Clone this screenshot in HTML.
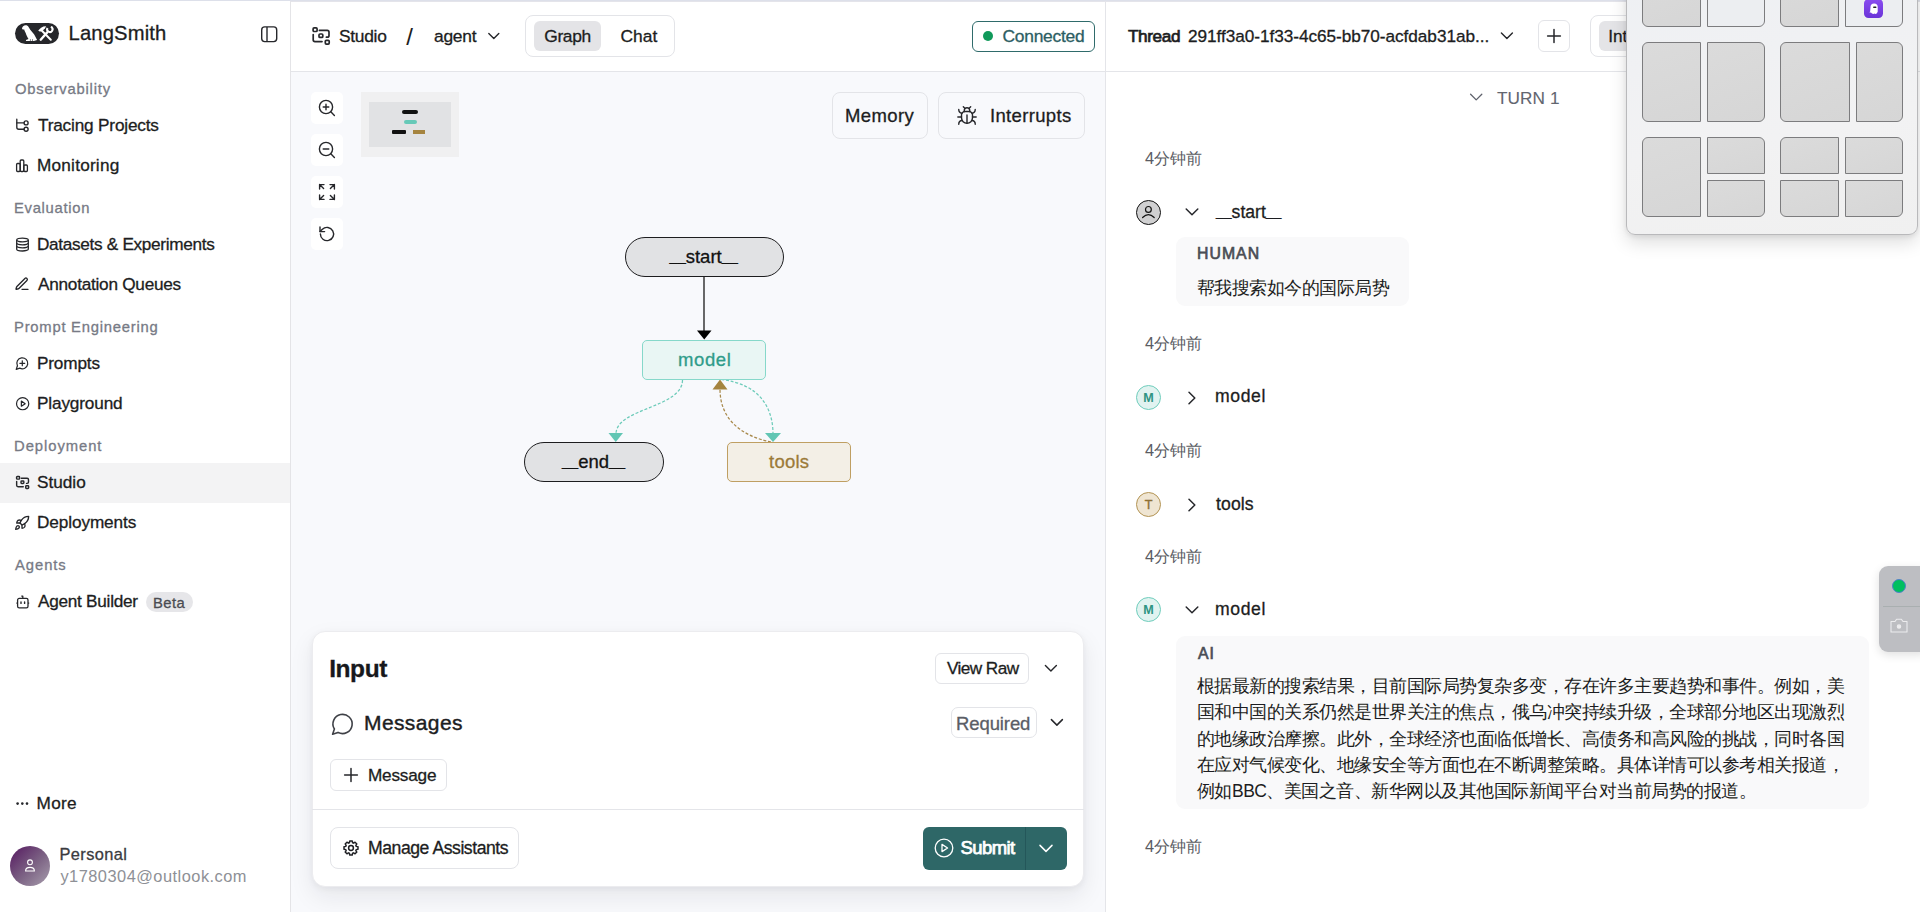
<!DOCTYPE html>
<html><head><meta charset="utf-8">
<style>
*{box-sizing:border-box;margin:0;padding:0}
html,body{width:1920px;height:912px;overflow:hidden;background:#fff;font-family:"Liberation Sans",sans-serif;color:#1c1d21}
.a{position:absolute}
.t{position:absolute;white-space:nowrap;line-height:1;-webkit-text-stroke:0.3px currentColor}
svg{position:absolute;overflow:visible}
.cj{font-size:16.4px;color:#5a5c63;-webkit-text-stroke:0}
.cj2{font-size:17.5px;color:#1c1d21;letter-spacing:-0.51px;-webkit-text-stroke:0}
.bx{position:absolute;border:1px solid #e3e4e8;border-radius:8px}
</style></head><body>
<!-- panels -->
<div class="a" style="left:0;top:0;width:1920px;height:1px;background:#dde0ea"></div>
<div class="a" style="left:291px;top:1px;width:1629px;height:1px;background:#e4e4ea"></div>
<div class="a" style="left:290px;top:1px;width:1px;height:911px;background:#e4e4e7"></div>
<div class="a" style="left:291px;top:72px;width:814px;height:840px;background:#f8f9fc"></div>
<div class="a" style="left:291px;top:71px;width:1629px;height:1px;background:#e4e5e9"></div>
<div class="a" style="left:1105px;top:2px;width:1px;height:910px;background:#e4e5e9"></div>

<!-- sidebar -->
<div class="a" style="left:0;top:463px;width:290px;height:40px;background:#f3f3f4"></div>
<div class="a" style="left:146px;top:592px;width:47px;height:20px;border-radius:10px;background:#e6e6e9"></div>
<div class="a" style="left:15.3px;top:22.5px;width:43.6px;height:21.8px;border-radius:10.9px;background:#26272b"></div>
<svg style="left:15px;top:22px" width="44" height="23" viewBox="0 0 44 23">
 <path fill="#fff" d="M6.98 6.55C7.3 5 8.6 3.3 10.7 3.27c1.3 0 2.2.7 2.55 1.3l2 3.13 3.15 3.7c1.1 1.3 2 2.9 3.68 6.55l-3.13 1.15H10.97v-1.15l2.56-1.05c-1-1.4-2.1-3.4-2.85-5.8L9.54 8.83 9.26 7.55 7.69 7.4z"/>
 <path stroke="#26272b" stroke-width=".8" d="M15.4 17.4v1.3M17.5 17.4v1.3"/>
 <path fill="none" stroke="#fff" stroke-width="2" stroke-linecap="round" d="M27.2 9l8.6 8.8"/>
 <path fill="#fff" d="M23.2 8.55l2.9-2.85 2.3-1.3 2.8-.27-1.13 2.14-2 2-1.47 1.13h-1.95z"/>
 <path fill="none" stroke="#fff" stroke-width="2.4" stroke-linecap="round" d="M25.7 17.7l6.5-7.3"/>
 <path fill="none" stroke="#fff" stroke-width="2" d="M36.2 5a2.7 2.7 0 1 1-3.7 1"/>
 <path fill="#fff" d="M36.6 3.9l1.3 1.2-1.2 1.3-1.3-1.2z"/>
</svg>
<svg style="left:15px;top:118px" width="15" height="15" viewBox="0 0 15 15" fill="none" stroke="#26272b" stroke-width="1.35" stroke-linecap="round"><path d="M1.8 1.2v8a2 2 0 0 0 2 2H9"/><path d="M1.8 4.9H9"/><circle cx="11.1" cy="4.9" r="2"/><circle cx="11.1" cy="11.2" r="2"/></svg>
<svg style="left:15px;top:158px" width="15" height="15" viewBox="0 0 15 15" fill="none" stroke="#26272b" stroke-width="1.3"><rect x="1.6" y="5.5" width="3.6" height="8" rx="1"/><rect x="5.2" y="2" width="3.6" height="11.5" rx="1"/><rect x="8.8" y="7" width="3.6" height="6.5" rx="1"/></svg>
<svg style="left:15px;top:237px" width="15" height="15" viewBox="0 0 15 15" fill="none" stroke="#26272b" stroke-width="1.3"><ellipse cx="7.5" cy="3" rx="5.8" ry="1.8"/><path d="M1.7 3v9.2c0 1 2.6 1.8 5.8 1.8s5.8-.8 5.8-1.8V3"/><path d="M1.7 6.1c0 1 2.6 1.8 5.8 1.8s5.8-.8 5.8-1.8M1.7 9.1c0 1 2.6 1.8 5.8 1.8s5.8-.8 5.8-1.8"/></svg>
<svg style="left:14.3px;top:276.3px" width="16" height="16" viewBox="0 0 24 24" fill="none" stroke="#26272b" stroke-width="2" stroke-linecap="round" stroke-linejoin="round"><path d="M12 20h9"/><path d="M16.376 3.622a1 1 0 0 1 3.002 3.002L7.368 18.635a2 2 0 0 1-.855.506l-2.872.838a.5.5 0 0 1-.62-.62l.838-2.872a2 2 0 0 1 .506-.854z"/></svg>
<svg style="left:15.2px;top:356.2px" width="14.6" height="14.6" viewBox="0 0 24 24" fill="none" stroke="#26272b" stroke-width="2" stroke-linecap="round" stroke-linejoin="round"><path d="M7.9 20A9 9 0 1 0 4 16.1L2 22Z"/><path d="M8 12h8"/><path d="M12 8v8"/></svg>
<svg style="left:14.9px;top:396.2px" width="15.3" height="15.3" viewBox="0 0 24 24" fill="none" stroke="#26272b" stroke-width="1.9" stroke-linecap="round" stroke-linejoin="round"><circle cx="12" cy="12" r="9.6"/><polygon points="10 8 16 12 10 16 10 8"/></svg>
<svg style="left:15px;top:475px" width="15" height="15" viewBox="0 0 20 20" fill="none" stroke="#26272b" stroke-width="1.9" stroke-linejoin="round" stroke-linecap="round"><rect x="2.1" y="1.9" width="4" height="3.6" rx="1"/><rect x="8" y="8" width="3.8" height="3.4" rx="1"/><rect x="14.3" y="14.3" width="3.9" height="3.8" rx="1"/><path d="M2.2 8.6v5.2a1.8 1.8 0 0 0 1.8 1.8H11M8.4 4.4h7.8a1.8 1.8 0 0 1 1.8 1.8v3.2a1.8 1.8 0 0 1-1.8 1.8h-.8"/></svg>
<svg style="left:14.3px;top:514.5px" width="16" height="16" viewBox="0 0 24 24" fill="none" stroke="#26272b" stroke-width="2" stroke-linecap="round" stroke-linejoin="round"><path d="M4.5 16.5c-1.5 1.26-2 5-2 5s3.74-.5 5-2c.71-.84.7-2.13-.09-2.91a2.18 2.18 0 0 0-2.91-.09z"/><path d="m12 15-3-3a22 22 0 0 1 2-3.95A12.88 12.88 0 0 1 22 2c0 2.72-.78 7.5-6 11a22.35 22.35 0 0 1-4 2z"/><path d="M9 12H4s.55-3.03 2-4c1.62-1.08 5 0 5 0"/><path d="M12 15v5s3.03-.55 4-2c1.08-1.62 0-5 0-5"/></svg>
<svg style="left:15px;top:594px" width="15" height="15" viewBox="0 0 15 15" fill="none" stroke="#26272b" stroke-width="1.3" stroke-linejoin="round"><rect x="2.6" y="4.4" width="10.4" height="9.4" rx="1.6"/><path d="M7.8 4.4V2.2H6.3"/><path d="M2.6 9.1H1.4M13 9.1h1.2"/><path d="M6 8v1.4M9.6 8v1.4" stroke-width="1.4" stroke-linecap="round"/></svg>
<svg style="left:14px;top:796px" width="16" height="14" viewBox="0 0 16 14"><circle cx="3.6" cy="7.6" r="1.3" fill="#26272b"/><circle cx="8.3" cy="7.6" r="1.3" fill="#26272b"/><circle cx="13" cy="7.6" r="1.3" fill="#26272b"/></svg>
<div class="a" style="left:10px;top:846px;width:40px;height:40px;border-radius:20px;background:linear-gradient(135deg,#54175f 0%,#7d6485 55%,#a99fae 100%)"></div>
<svg style="left:23px;top:858px" width="14" height="15" viewBox="0 0 14 15" fill="none" stroke="#fff" stroke-width="1.1"><circle cx="7" cy="4.3" r="2.4"/><path d="M2.6 13c0-2.4 2-3.6 4.4-3.6s4.4 1.2 4.4 3.6z"/></svg>
<svg style="left:259px;top:25px" width="19" height="19" viewBox="0 0 19 19" fill="none" stroke="#26272b" stroke-width="1.4"><rect x="2.7" y="1.9" width="15" height="14.7" rx="3"/><path d="M8 1.9v14.7"/></svg>

<!-- middle header -->
<svg style="left:311px;top:26px" width="20" height="20" viewBox="0 0 20 20" fill="none" stroke="#26272b" stroke-width="1.7" stroke-linejoin="round" stroke-linecap="round"><rect x="2.1" y="1.9" width="4" height="3.6" rx="1"/><rect x="8" y="8" width="3.8" height="3.4" rx="1"/><rect x="14.3" y="14.3" width="3.9" height="3.8" rx="1"/><path d="M2.2 8.6v5.2a1.8 1.8 0 0 0 1.8 1.8H11M8.4 4.4h7.8a1.8 1.8 0 0 1 1.8 1.8v3.2a1.8 1.8 0 0 1-1.8 1.8h-.8"/></svg>
<div class="t" style="left:406.3px;top:25.4px;font-size:24px;color:#1c1d21;-webkit-text-stroke:0">/</div>
<svg style="left:487px;top:31px" width="14" height="10" viewBox="0 0 14 10" fill="none" stroke="#26272b" stroke-width="1.4" stroke-linecap="round" stroke-linejoin="round"><path d="M1.8 2.4l5 5 5-5"/></svg>
<div class="bx" style="left:525px;top:15px;width:150px;height:42px;border-radius:8px"></div>
<div class="a" style="left:534px;top:21px;width:67px;height:30px;border-radius:6px;background:#e4e4e7"></div>
<div class="a" style="left:972px;top:21px;width:123px;height:31px;border:1.4px solid #2f6b6b;border-radius:6px"></div>
<div class="a" style="left:983px;top:31px;width:10px;height:10px;border-radius:5px;background:#10995a"></div>

<!-- graph controls -->
<div class="a" style="left:311px;top:92px;width:32px;height:32px;border-radius:5px;background:#fff"></div>
<div class="a" style="left:311px;top:134px;width:32px;height:32px;border-radius:5px;background:#fff"></div>
<div class="a" style="left:311px;top:176px;width:32px;height:32px;border-radius:5px;background:#fff"></div>
<div class="a" style="left:311px;top:218px;width:32px;height:32px;border-radius:5px;background:#fff"></div>
<svg style="left:317px;top:98px" width="20" height="20" viewBox="0 0 20 20" fill="none" stroke="#26272b" stroke-width="1.4" stroke-linecap="round"><circle cx="9" cy="9" r="6.6"/><path d="M13.8 13.8l3.6 3.6M9 6.2v5.6M6.2 9h5.6"/></svg>
<svg style="left:317px;top:140px" width="20" height="20" viewBox="0 0 20 20" fill="none" stroke="#26272b" stroke-width="1.4" stroke-linecap="round"><circle cx="9" cy="9" r="6.6"/><path d="M13.8 13.8l3.6 3.6M6.2 9h5.6"/></svg>
<svg style="left:317px;top:182px" width="20" height="20" viewBox="0 0 20 20" fill="none" stroke="#26272b" stroke-width="1.4" stroke-linecap="round" stroke-linejoin="round"><path d="M2.6 7V2.6H7M2.6 2.6l4 4M17.4 7V2.6H13M17.4 2.6l-4 4M2.6 13v4.4H7M2.6 17.4l4-4M17.4 13v4.4H13M17.4 17.4l-4-4"/></svg>
<svg style="left:317px;top:224px" width="20" height="20" viewBox="0 0 20 20" fill="none" stroke="#26272b" stroke-width="1.4" stroke-linecap="round" stroke-linejoin="round"><path d="M3.4 10a6.6 6.6 0 1 0 2-4.7L3 7.6"/><path d="M3 3v4.6h4.6"/></svg>
<div class="a" style="left:361px;top:92px;width:98px;height:65px;background:#f0f0f1"></div>
<div class="a" style="left:369px;top:102px;width:82px;height:45px;background:#e1e2e4"></div>
<div class="a" style="left:402px;top:110px;width:16px;height:4px;border-radius:2px;background:#111"></div>
<div class="a" style="left:404px;top:120px;width:13px;height:4px;border-radius:2px;background:#66c9b8"></div>
<div class="a" style="left:392px;top:130px;width:14px;height:4px;border-radius:1px;background:#111"></div>
<div class="a" style="left:413px;top:130px;width:12px;height:4px;background:#a5843f"></div>
<div class="bx" style="left:832px;top:92px;width:96px;height:47px;border-radius:8px"></div>
<div class="bx" style="left:938px;top:92px;width:147px;height:47px;border-radius:8px"></div>
<svg style="left:956px;top:105px" width="22" height="22" viewBox="0 0 24 24" fill="none" stroke="#26272b" stroke-width="1.55" stroke-linecap="round" stroke-linejoin="round"><path d="m8 2 1.88 1.88"/><path d="M14.12 3.88 16 2"/><path d="M9 7.13v-1a3.003 3.003 0 1 1 6 0v1"/><path d="M12 20c-3.3 0-6-2.7-6-6v-3a4 4 0 0 1 4-4h4a4 4 0 0 1 4 4v3c0 3.3-2.7 6-6 6"/><path d="M12 20v-9"/><path d="M6.53 9C4.6 8.8 3 7.1 3 5"/><path d="M6 13H2"/><path d="M3 21c0-2.1 1.7-3.9 3.8-4"/><path d="M20.97 5c0 2.1-1.6 3.8-3.5 4"/><path d="M22 13h-4"/><path d="M17.2 17c2.1.1 3.8 1.9 3.8 4"/></svg>

<!-- graph edges and nodes -->
<svg style="left:0;top:0" width="1920" height="912" viewBox="0 0 1920 912">
 <path d="M704 277V331" stroke="#1a1a1a" stroke-width="1.3" fill="none"/>
 <path d="M697 330.5h14.5l-7.25 9z" fill="#000"/>
 <path d="M682.5 380C682.5 408 616 408 616 434" stroke="#6ccbb9" stroke-width="1.25" stroke-dasharray="3 1.8" fill="none"/>
 <path d="M608.5 433h14.5l-7.25 9z" fill="#62c6b4"/>
 <path d="M721 379.5C760 384 773 408 773 434" stroke="#6ccbb9" stroke-width="1.25" stroke-dasharray="3 1.8" fill="none"/>
 <path d="M765 433h16l-8 9z" fill="#62c6b4"/>
 <path d="M771 442C742 436 720 420 720 389" stroke="#a8894b" stroke-width="1.25" stroke-dasharray="3 1.8" fill="none"/>
 <path d="M712.5 389.5h15l-7.5-10z" fill="#a5843f"/>
</svg>
<div class="a" style="left:625px;top:237px;width:159px;height:40px;border-radius:20px;background:#e1e2e4;border:1.2px solid #1d1d1f"></div>
<div class="a" style="left:642px;top:340px;width:124px;height:40px;border-radius:5px;background:#e9f6f4;border:1.2px solid #86d8ca"></div>
<div class="a" style="left:524px;top:442px;width:140px;height:40px;border-radius:20px;background:#e1e2e4;border:1.2px solid #1d1d1f"></div>
<div class="a" style="left:727px;top:442px;width:124px;height:40px;border-radius:5px;background:#f3efe6;border:1.2px solid #bf9f62"></div>

<!-- input card -->
<div class="a" style="left:312px;top:631px;width:772px;height:256px;border-radius:13px;background:#fff;border:1px solid #ececef;box-shadow:0 10px 24px rgba(20,24,40,.08),0 2px 6px rgba(20,24,40,.05)"></div>
<div class="a" style="left:312px;top:809px;width:772px;height:1px;background:#e4e5e9"></div>
<svg style="left:331px;top:712px" width="24" height="24" viewBox="0 0 24 24" fill="none" stroke="#3f4147" stroke-width="1.6" stroke-linejoin="round"><path d="M1.6 22.2l1.8-5.2A9.6 9.6 0 1 1 7 20.4z"/></svg>
<div class="bx" style="left:935px;top:653px;width:94px;height:31px;border-radius:6px"></div>
<svg style="left:1044px;top:662px" width="14" height="12" viewBox="0 0 14 12" fill="none" stroke="#26272b" stroke-width="1.4" stroke-linecap="round" stroke-linejoin="round"><path d="M1.4 3.6l5.5 5.5 5.5-5.5"/></svg>
<div class="bx" style="left:951px;top:707px;width:86px;height:31px;border-radius:7px"></div>
<svg style="left:1050px;top:716px" width="14" height="12" viewBox="0 0 14 12" fill="none" stroke="#26272b" stroke-width="1.5" stroke-linecap="round" stroke-linejoin="round"><path d="M1.4 3.6l5.5 5.5 5.5-5.5"/></svg>
<div class="bx" style="left:330px;top:759px;width:117px;height:32px;border-radius:6px"></div>
<svg style="left:343px;top:767px" width="16" height="16" viewBox="0 0 16 16" fill="none" stroke="#26272b" stroke-width="1.5" stroke-linecap="round"><path d="M8 1.6v12.8M1.6 8h12.8"/></svg>
<div class="bx" style="left:330px;top:827px;width:189px;height:42px;border-radius:8px"></div>
<svg style="left:339px;top:836px" width="24" height="24" viewBox="0 0 24 24" fill="none" stroke="#1f2024" stroke-width="1.5" stroke-linejoin="round"><path d="M17.26 13.61 L18.99 13.23 L18.99 10.77 L17.26 10.39 L16.86 9.42 L17.82 7.93 L16.07 6.18 L14.58 7.14 L13.61 6.74 L13.23 5.01 L10.77 5.01 L10.39 6.74 L9.42 7.14 L7.93 6.18 L6.18 7.93 L7.14 9.42 L6.74 10.39 L5.01 10.77 L5.01 13.23 L6.74 13.61 L7.14 14.58 L6.18 16.07 L7.93 17.82 L9.42 16.86 L10.39 17.26 L10.77 18.99 L13.23 18.99 L13.61 17.26 L14.58 16.86 L16.07 17.82 L17.82 16.07 L16.86 14.58Z"/><circle cx="12" cy="12" r="2.4"/></svg>
<div class="a" style="left:923px;top:827px;width:144px;height:43px;border-radius:6px;background:#2e6767"></div>
<div class="a" style="left:1025px;top:827px;width:1px;height:43px;background:#24575a"></div>
<svg style="left:933px;top:837px" width="22" height="22" viewBox="0 0 22 22" fill="none" stroke="#fff" stroke-width="1.3" stroke-linejoin="round"><circle cx="11" cy="11" r="8.8"/><path d="M9 7.4v7.2l5.6-3.6z"/></svg>
<svg style="left:1038px;top:842px" width="16" height="12" viewBox="0 0 16 12" fill="none" stroke="#fff" stroke-width="1.5" stroke-linecap="round" stroke-linejoin="round"><path d="M2 3.4l6 6 6-6"/></svg>

<!-- right header -->
<svg style="left:1500px;top:30px" width="14" height="12" viewBox="0 0 14 12" fill="none" stroke="#26272b" stroke-width="1.4" stroke-linecap="round" stroke-linejoin="round"><path d="M1.4 3l5.5 5.5 5.5-5.5"/></svg>
<div class="bx" style="left:1538px;top:20px;width:32px;height:32px;border-radius:6px"></div>
<svg style="left:1546px;top:28px" width="16" height="16" viewBox="0 0 16 16" fill="none" stroke="#26272b" stroke-width="1.5" stroke-linecap="round"><path d="M8 1.6v12.8M1.6 8h12.8"/></svg>
<div class="bx" style="left:1590px;top:15px;width:150px;height:42px;border-radius:8px"></div>
<div class="a" style="left:1599px;top:21px;width:60px;height:30px;border-radius:6px;background:#e4e4e7"></div>

<!-- chat -->
<svg style="left:1468px;top:90px" width="16" height="14" viewBox="0 0 16 14" fill="none" stroke="#5f626c" stroke-width="1.3" stroke-linecap="round" stroke-linejoin="round"><path d="M2.6 4.3l5.6 5.6 5.6-5.6"/></svg>
<div class="a" style="left:1136px;top:200px;width:25px;height:25px;border-radius:13px;background:#d0d0d1;border:1.3px solid #111"></div>
<svg style="left:1140px;top:204px" width="17" height="17" viewBox="0 0 17 17" fill="none" stroke="#111" stroke-width="1.2" stroke-linecap="round"><circle cx="8.4" cy="5.4" r="2.9"/><path d="M2.6 13.5Q8.4 7.9 14.2 13.5"/></svg>
<svg style="left:1184px;top:206px" width="16" height="12" viewBox="0 0 16 12" fill="none" stroke="#26272b" stroke-width="1.5" stroke-linecap="round" stroke-linejoin="round"><path d="M2.2 3l5.8 5.8 5.8-5.8"/></svg>
<div class="a" style="left:1176px;top:237px;width:233px;height:69px;border-radius:9px;background:#f9f9fa"></div>
<div class="a" style="left:1136px;top:385px;width:25px;height:25px;border-radius:13px;background:#e1f3f0;border:1.3px solid #6fcdbc"></div>
<svg style="left:1186px;top:390px" width="12" height="16" viewBox="0 0 12 16" fill="none" stroke="#26272b" stroke-width="1.5" stroke-linecap="round" stroke-linejoin="round"><path d="M3 2.2l5.8 5.8-5.8 5.8"/></svg>
<div class="a" style="left:1136px;top:492px;width:25px;height:25px;border-radius:13px;background:#efe5d2;border:1.3px solid #b39454"></div>
<svg style="left:1186px;top:497px" width="12" height="16" viewBox="0 0 12 16" fill="none" stroke="#26272b" stroke-width="1.5" stroke-linecap="round" stroke-linejoin="round"><path d="M3 2.2l5.8 5.8-5.8 5.8"/></svg>
<div class="a" style="left:1136px;top:597px;width:25px;height:25px;border-radius:13px;background:#e1f3f0;border:1.3px solid #6fcdbc"></div>
<svg style="left:1184px;top:604px" width="16" height="12" viewBox="0 0 16 12" fill="none" stroke="#26272b" stroke-width="1.5" stroke-linecap="round" stroke-linejoin="round"><path d="M2.2 3l5.8 5.8 5.8-5.8"/></svg>
<div class="a" style="left:1176px;top:636px;width:693px;height:173px;border-radius:9px;background:#f9f9fa"></div>
<div class="a" style="left:1136px;top:385px;width:25px;height:25px;display:flex;align-items:center;justify-content:center;font-size:12.6px;font-weight:700;color:#2f9482;line-height:1;padding-top:1px">M</div>
<div class="a" style="left:1136px;top:492px;width:25px;height:25px;display:flex;align-items:center;justify-content:center;font-size:12.6px;font-weight:400;-webkit-text-stroke:.4px #8d6f33;color:#8d6f33;line-height:1;padding-top:1px">T</div>
<div class="a" style="left:1136px;top:597px;width:25px;height:25px;display:flex;align-items:center;justify-content:center;font-size:12.6px;font-weight:700;color:#2f9482;line-height:1;padding-top:1px">M</div>
<div class="t" style="left:68.6px;top:23.20px;font-size:20.2px;color:#1c1d21;letter-spacing:0.150px;">LangSmith</div>
<div class="t" style="left:15.0px;top:81.90px;font-size:14.8px;color:#777a85;letter-spacing:0.792px;">Observability</div>
<div class="t" style="left:38.0px;top:116.70px;font-size:17.2px;color:#1c1d21;letter-spacing:-0.173px;">Tracing Projects</div>
<div class="t" style="left:37.0px;top:156.70px;font-size:17.2px;color:#1c1d21;letter-spacing:0.222px;">Monitoring</div>
<div class="t" style="left:14.0px;top:200.90px;font-size:14.8px;color:#777a85;letter-spacing:0.700px;">Evaluation</div>
<div class="t" style="left:37.0px;top:235.70px;font-size:17.2px;color:#1c1d21;letter-spacing:-0.310px;">Datasets &amp; Experiments</div>
<div class="t" style="left:38.0px;top:275.70px;font-size:17.2px;color:#1c1d21;letter-spacing:-0.250px;">Annotation Queues</div>
<div class="t" style="left:14.0px;top:319.90px;font-size:14.8px;color:#777a85;letter-spacing:0.759px;">Prompt Engineering</div>
<div class="t" style="left:37.0px;top:354.70px;font-size:17.2px;color:#1c1d21;letter-spacing:-0.167px;">Prompts</div>
<div class="t" style="left:37.0px;top:394.70px;font-size:17.2px;color:#1c1d21;letter-spacing:-0.144px;">Playground</div>
<div class="t" style="left:14.0px;top:438.90px;font-size:14.8px;color:#777a85;letter-spacing:0.944px;">Deployment</div>
<div class="t" style="left:37.0px;top:473.70px;font-size:17.2px;color:#1c1d21;">Studio</div>
<div class="t" style="left:37.0px;top:513.70px;font-size:17.2px;color:#1c1d21;letter-spacing:-0.100px;">Deployments</div>
<div class="t" style="left:15.0px;top:557.90px;font-size:14.8px;color:#777a85;letter-spacing:0.940px;">Agents</div>
<div class="t" style="left:38.0px;top:592.70px;font-size:17.2px;color:#1c1d21;letter-spacing:-0.267px;">Agent Builder</div>
<div class="t" style="left:153.0px;top:595.90px;font-size:14.8px;color:#4a4c52;letter-spacing:0.433px;">Beta</div>
<div class="t" style="left:36.6px;top:794.70px;font-size:17.2px;color:#1c1d21;letter-spacing:0.267px;">More</div>
<div class="t" style="left:59.4px;top:846.10px;font-size:16.4px;color:#3a3b40;letter-spacing:0.414px;">Personal</div>
<div class="t" style="left:60.4px;top:868.10px;font-size:16.4px;color:#8e9096;letter-spacing:0.479px;-webkit-text-stroke:0;">y1780304@outlook.com</div>
<div class="t" style="left:339.0px;top:27.60px;font-size:17.4px;color:#1c1d21;letter-spacing:-0.300px;">Studio</div>
<div class="t" style="left:434.0px;top:27.60px;font-size:17.4px;color:#1c1d21;letter-spacing:-0.250px;">agent</div>
<div class="t" style="left:544.2px;top:27.60px;font-size:17.4px;color:#1c1d21;letter-spacing:-0.325px;">Graph</div>
<div class="t" style="left:620.4px;top:27.60px;font-size:17.4px;color:#1c1d21;letter-spacing:0.067px;">Chat</div>
<div class="t" style="left:1002.5px;top:27.60px;font-size:17.4px;color:#2c5e63;letter-spacing:-0.244px;">Connected</div>
<div class="t" style="left:845.0px;top:106.55px;font-size:18.5px;color:#1c1d21;letter-spacing:0.400px;">Memory</div>
<div class="t" style="left:990.0px;top:106.55px;font-size:18.5px;color:#1c1d21;letter-spacing:0.333px;">Interrupts</div>
<div class="t" style="left:669.6px;top:247.55px;font-size:18.5px;color:#111;"><span style="font-size:14.5px;position:relative;top:-1.5px">__</span>start<span style="font-size:14.5px;position:relative;top:-1.5px">__</span></div>
<div class="t" style="left:678.0px;top:350.55px;font-size:18.5px;color:#2f9c8a;letter-spacing:0.600px;">model</div>
<div class="t" style="left:562.0px;top:452.55px;font-size:18.5px;color:#111;"><span style="font-size:14.5px;position:relative;top:-1.5px">__</span>end<span style="font-size:14.5px;position:relative;top:-1.5px">__</span></div>
<div class="t" style="left:769.0px;top:452.55px;font-size:18.5px;color:#9b7a38;letter-spacing:0.250px;">tools</div>
<div class="t" style="left:329.2px;top:656.55px;font-size:24.5px;color:#17181c;font-weight:700;letter-spacing:-0.425px;">Input</div>
<div class="t" style="left:364.0px;top:712.30px;font-size:21px;color:#1c1d21;letter-spacing:0.400px;-webkit-text-stroke:0.4px #1c1d21;">Messages</div>
<div class="t" style="left:368.0px;top:766.70px;font-size:17.2px;color:#1c1d21;letter-spacing:-0.200px;">Message</div>
<div class="t" style="left:947.0px;top:659.70px;font-size:17.2px;color:#1c1d21;letter-spacing:-0.571px;">View Raw</div>
<div class="t" style="left:956.0px;top:714.55px;font-size:18.5px;color:#5a5d66;letter-spacing:-0.100px;">Required</div>
<div class="t" style="left:368.0px;top:839.50px;font-size:17.6px;color:#1c1d21;letter-spacing:-0.444px;">Manage Assistants</div>
<div class="t" style="left:960.6px;top:838.55px;font-size:18.5px;color:#ffffff;letter-spacing:-0.600px;-webkit-text-stroke:0.75px #fff;">Submit</div>
<div class="t" style="left:1128.0px;top:27.70px;font-size:17.2px;color:#1c1d21;letter-spacing:-0.400px;-webkit-text-stroke:0.7px #1c1d21;">Thread</div>
<div class="t" style="left:1188.0px;top:27.70px;font-size:17.2px;color:#1c1d21;letter-spacing:-0.039px;">291ff3a0-1f33-4c65-bb70-acfdab31ab...</div>
<div class="t" style="left:1608.2px;top:27.70px;font-size:17.2px;color:#1c1d21;">Int</div>
<div class="t" style="left:1497.0px;top:89.70px;font-size:17.2px;color:#62656f;letter-spacing:0.080px;-webkit-text-stroke:0.1px #62656f;">TURN 1</div>
<div class="t" style="left:1216.0px;top:203.50px;font-size:17.6px;color:#1c1d21;"><span style="font-size:14px;position:relative;top:-1.5px">__</span>start<span style="font-size:14px;position:relative;top:-1.5px">__</span></div>
<div class="t" style="left:1197.0px;top:245.90px;font-size:15.8px;color:#4a4d55;letter-spacing:1.050px;-webkit-text-stroke:0.65px #4a4d55;">HUMAN</div>
<div class="t" style="left:1215.0px;top:387.50px;font-size:17.6px;color:#1c1d21;letter-spacing:0.625px;">model</div>
<div class="t" style="left:1216.0px;top:495.50px;font-size:17.6px;color:#1c1d21;letter-spacing:0.125px;">tools</div>
<div class="t" style="left:1215.0px;top:600.50px;font-size:17.6px;color:#1c1d21;letter-spacing:0.625px;">model</div>
<div class="t" style="left:1198.0px;top:645.90px;font-size:15.8px;color:#4a4d55;letter-spacing:0.900px;-webkit-text-stroke:0.65px #4a4d55;">AI</div>

<div class="t cj" style="left:1145px;top:150px">4分钟前</div>
<div class="t cj" style="left:1145px;top:335px">4分钟前</div>
<div class="t cj" style="left:1145px;top:442px">4分钟前</div>
<div class="t cj" style="left:1145px;top:548px">4分钟前</div>
<div class="t cj" style="left:1145px;top:838px">4分钟前</div>
<div class="t cj2" style="left:1197px;top:279.5px">帮我搜索如今的国际局势</div>
<div class="a cj2" style="left:1197px;top:673px;line-height:26.3px;white-space:nowrap">根据最新的搜索结果，目前国际局势复杂多变，存在许多主要趋势和事件。例如，美<br>国和中国的关系仍然是世界关注的焦点，俄乌冲突持续升级，全球部分地区出现激烈<br>的地缘政治摩擦。此外，全球经济也面临低增长、高债务和高风险的挑战，同时各国<br>在应对气候变化、地缘安全等方面也在不断调整策略。具体详情可以参考相关报道，<br>例如BBC、美国之音、新华网以及其他国际新闻平台对当前局势的报道。</div>

<div class="a" style="left:1625.8px;top:-20px;width:292.5px;height:255px;border-radius:9px;background:linear-gradient(170deg,#eef0f3,#f2f2f3 60%,#f0f0f0);border:1px solid #b9b9bb;box-shadow:0 8px 18px rgba(0,0,0,.13),0 2px 5px rgba(0,0,0,.08)"></div>
<div class="a" style="left:1642px;top:-40px;width:59px;height:67px;border:1px solid #7c7c7e;border-radius:0 0 0 6px;background:linear-gradient(160deg,#dbdbdb,#d6d6d6)"></div>
<div class="a" style="left:1707px;top:-40px;width:58px;height:67px;border:1px solid #7c7c7e;border-radius:0 0 6px 0;background:#eceef1"></div>
<div class="a" style="left:1780px;top:-40px;width:59px;height:67px;border:1px solid #7c7c7e;border-radius:0 0 0 6px;background:linear-gradient(160deg,#dbdbdb,#d6d6d6)"></div>
<div class="a" style="left:1845px;top:-40px;width:58px;height:67px;border:1px solid #7c7c7e;border-radius:0 0 6px 0;background:#eceef1"></div>
<div class="a" style="left:1642px;top:42px;width:59px;height:80px;border:1px solid #7c7c7e;border-radius:6px 0 0 6px;background:linear-gradient(160deg,#dbdbdb,#d6d6d6)"></div>
<div class="a" style="left:1707px;top:42px;width:58px;height:80px;border:1px solid #7c7c7e;border-radius:0 6px 6px 0;background:linear-gradient(160deg,#dbdbdb,#d6d6d6)"></div>
<div class="a" style="left:1780px;top:42px;width:70px;height:80px;border:1px solid #7c7c7e;border-radius:6px 0 0 6px;background:linear-gradient(160deg,#dbdbdb,#d6d6d6)"></div>
<div class="a" style="left:1856px;top:42px;width:47px;height:80px;border:1px solid #7c7c7e;border-radius:0 6px 6px 0;background:linear-gradient(160deg,#dbdbdb,#d6d6d6)"></div>
<div class="a" style="left:1642px;top:137px;width:59px;height:80px;border:1px solid #7c7c7e;border-radius:6px 0 0 6px;background:linear-gradient(160deg,#dbdbdb,#d6d6d6)"></div>
<div class="a" style="left:1707px;top:137px;width:58px;height:37px;border:1px solid #7c7c7e;border-radius:0 6px 0 0;background:linear-gradient(160deg,#dbdbdb,#d6d6d6)"></div>
<div class="a" style="left:1707px;top:180px;width:58px;height:37px;border:1px solid #7c7c7e;border-radius:0 0 6px 0;background:linear-gradient(160deg,#dbdbdb,#d6d6d6)"></div>
<div class="a" style="left:1780px;top:137px;width:59px;height:37px;border:1px solid #7c7c7e;border-radius:6px 0 0 0;background:linear-gradient(160deg,#dbdbdb,#d6d6d6)"></div>
<div class="a" style="left:1845px;top:137px;width:58px;height:37px;border:1px solid #7c7c7e;border-radius:0 6px 0 0;background:linear-gradient(160deg,#dbdbdb,#d6d6d6)"></div>
<div class="a" style="left:1780px;top:180px;width:59px;height:37px;border:1px solid #7c7c7e;border-radius:0 0 0 6px;background:linear-gradient(160deg,#dbdbdb,#d6d6d6)"></div>
<div class="a" style="left:1845px;top:180px;width:58px;height:37px;border:1px solid #7c7c7e;border-radius:0 0 6px 0;background:linear-gradient(160deg,#dbdbdb,#d6d6d6)"></div>
<div class="a" style="left:1864px;top:-1px;width:19px;height:19px;border-radius:4.5px;background:linear-gradient(180deg,#8a4cf0,#6a34d8)"></div>
<svg style="left:1867px;top:1px" width="13" height="15" viewBox="0 0 13 15"><path fill="#fff" d="M2.3 11.2l.9-.6.3-4.6a3.6 3.6 0 0 1 7.2 0v4.8l-1 1.8-1.4.4-.9-.6-.9.6-1.6-.4-.6-.9z"/><rect x="6.2" y="5.5" width="3.2" height="1.6" rx=".5" fill="#222"/></svg>
<div class="a" style="left:1879px;top:566px;width:50px;height:86px;border-radius:9px;background:#bdbec2;box-shadow:0 3px 10px rgba(0,0,0,.12)"></div>
<div class="a" style="left:1883px;top:606px;width:40px;height:1px;background:#a9afb0"></div>
<div class="a" style="left:1892px;top:579px;width:14px;height:14px;border-radius:7px;background:#00bf5f;border:1px solid #4f82c9"></div>
<svg style="left:1889px;top:616px" width="20" height="18" viewBox="0 0 20 18" fill="none" stroke="#ececee" stroke-width="1.1" stroke-linejoin="round"><path d="M2 5.5h4l1.6-2.2h4.8L14 5.5h4V16H2z"/><circle cx="10" cy="10.6" r="1.7" fill="#ececee"/></svg>

</body></html>
